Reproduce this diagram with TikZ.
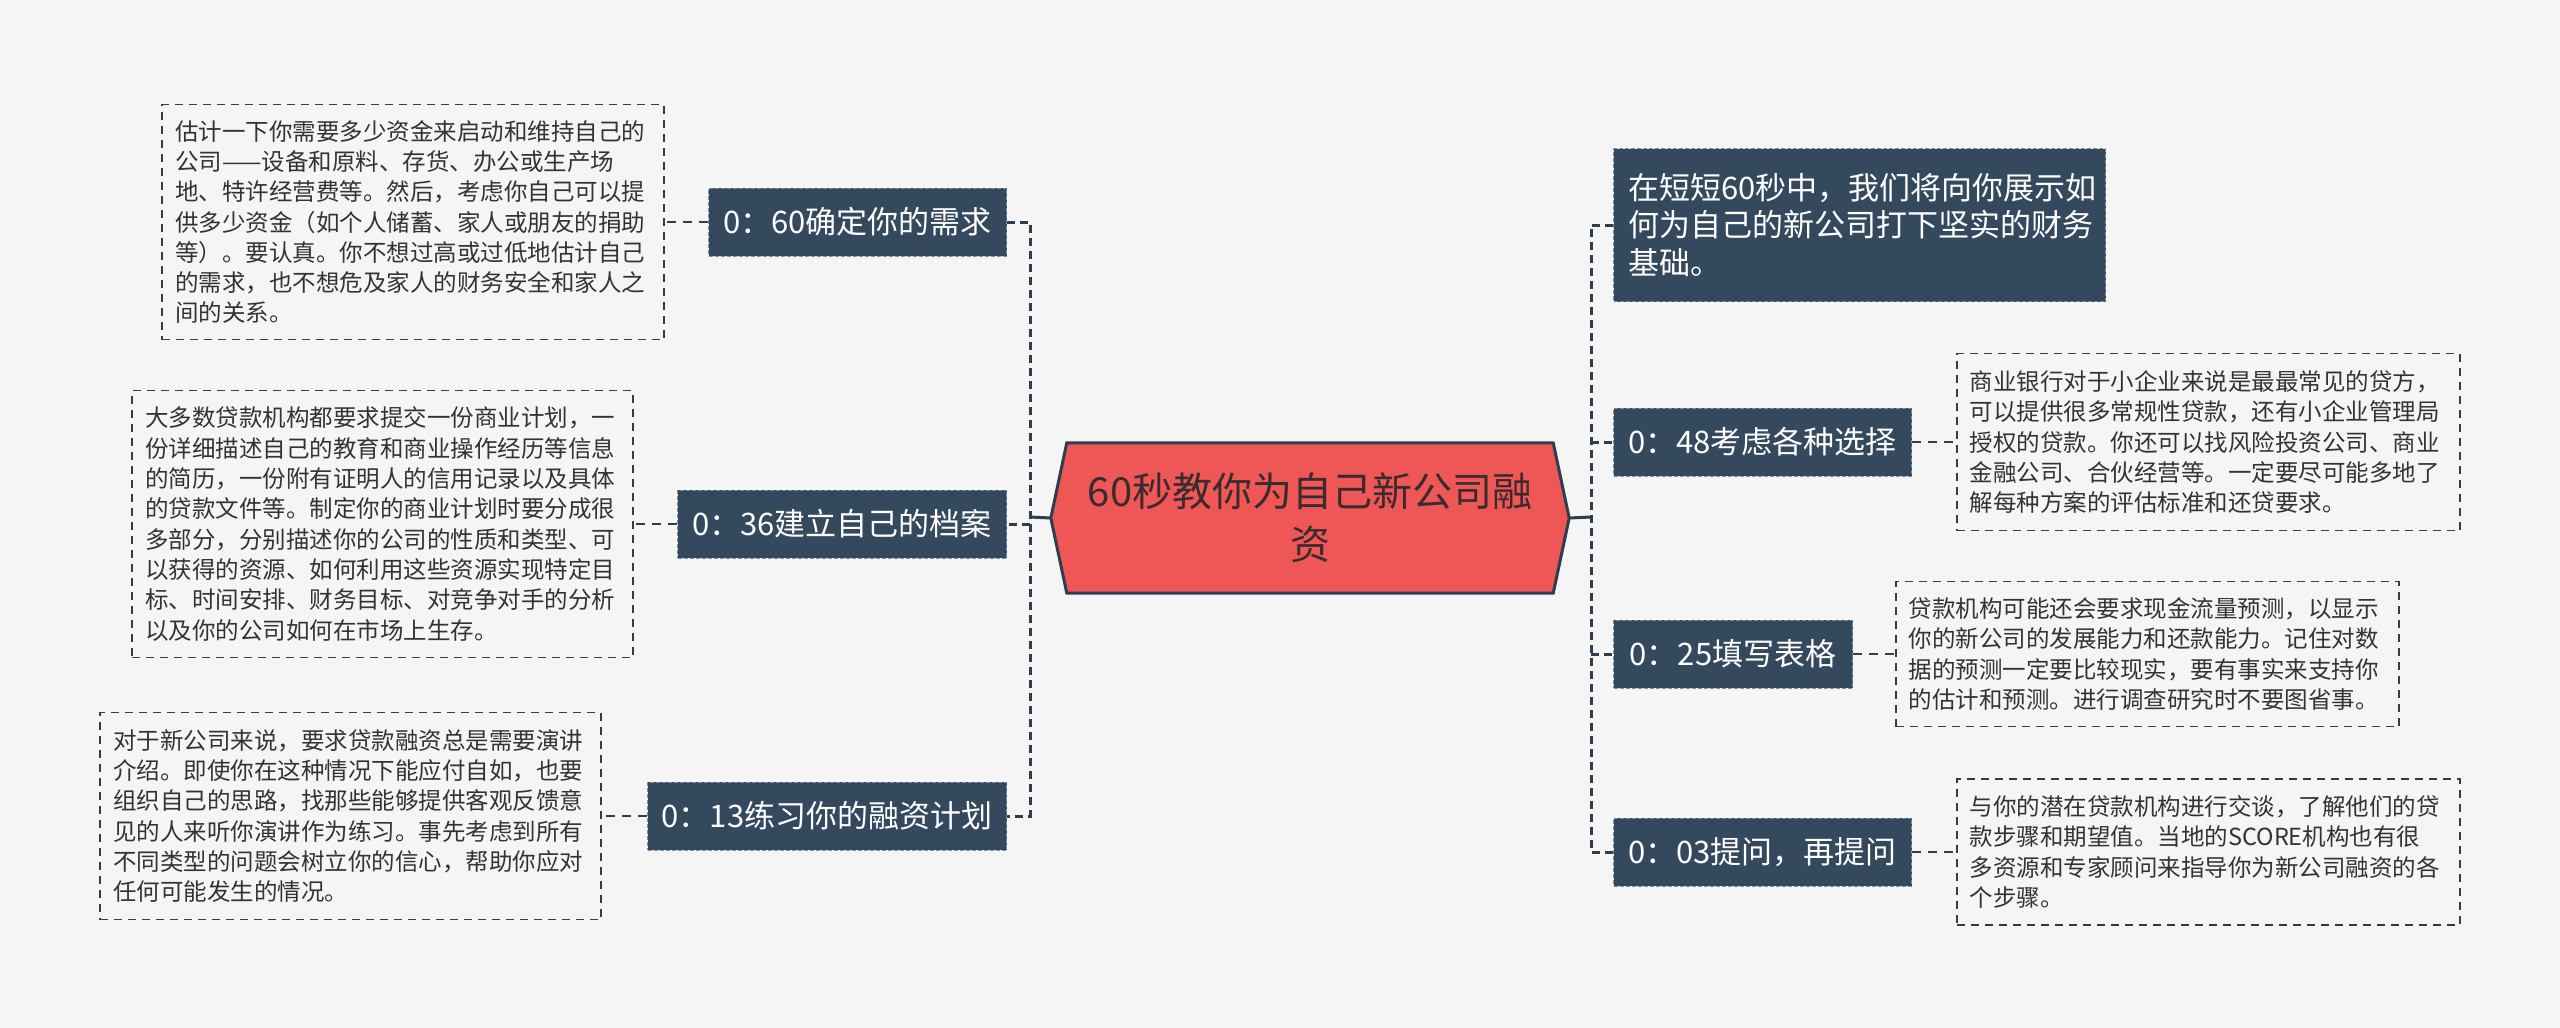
\documentclass[tikz,border=0pt]{standalone}
\usepackage{fontspec}
\newfontfamily\cjk{Noto Sans CJK SC}
\definecolor{bg}{HTML}{F5F5F5}
\definecolor{nodefill}{HTML}{34495E}
\definecolor{nodeborder}{HTML}{7D8D9E}
\definecolor{hubfill}{HTML}{EF5656}
\definecolor{hubtext}{HTML}{3A2B2F}
\definecolor{linecol}{HTML}{2C3E50}
\definecolor{descborder}{HTML}{3C3C3C}
\definecolor{desctext}{HTML}{333333}
\begin{document}
\begin{tikzpicture}[x=1pt,y=-1pt,
  topic/.style={fill=nodefill, draw=nodeborder, dash pattern=on 4pt off 2pt, line width=1pt,
    text=white, font=\cjk\fontsize{31}{37.5}\selectfont, minimum height=68pt, inner sep=0pt},
  desc/.style={draw=descborder, dash pattern=on 8pt off 6pt, line width=1.6pt,
    text=desctext, font=\cjk\fontsize{23.5}{30.3}\selectfont, align=left,
    inner xsep=13pt, inner ysep=0pt},
  trunk/.style={draw=linecol, line width=3pt, dash pattern=on 8pt off 5pt},
  hubline/.style={draw=linecol, line width=3pt},
  descline/.style={draw=linecol, line width=2.2pt, dash pattern=on 9pt off 7pt}]
\fill[bg] (0,0) rectangle (2560,1028);
\useasboundingbox (0,0) rectangle (2560,1028);

% central hexagon
\node[minimum width=518pt, minimum height=150pt, inner sep=0pt] (hub) at (1310,518) {};
\filldraw[fill=hubfill, draw=linecol, line width=3pt, line join=miter]
  (hub.west) -- ([xshift=16pt]hub.north west) -- ([xshift=-16pt]hub.north east)
  -- (hub.east) -- ([xshift=-16pt]hub.south east) -- ([xshift=16pt]hub.south west) -- cycle;
\node[text=hubtext, font=\cjk\fontsize{40}{53}\selectfont, align=center] (hubtxt) at (hub.center)
  {60秒教你为自己新公司融\\资};

% left topics
\node[topic, anchor=east, minimum width=298pt] (n60) at (1007,222) {0：60确定你的需求};
\node[topic, anchor=east, minimum width=329pt] (n36) at (1007,524) {0：36建立自己的档案};
\node[topic, anchor=east, minimum width=359pt] (n13) at (1007,816) {0：13练习你的融资计划};

% right topics
\node[topic, anchor=west, minimum width=492pt, minimum height=153pt, text width=462pt,
  inner xsep=15pt, align=left] (ntop) at (1613,225)
  {在短短60秒中，我们将向你展示如\\何为自己的新公司打下坚实的财务\\基础。};
\node[topic, anchor=west, minimum width=298pt] (n48) at (1613,442) {0：48考虑各种选择};
\node[topic, anchor=west, minimum width=239pt] (n25) at (1613,654) {0：25填写表格};
\node[topic, anchor=west, minimum width=298pt] (n03) at (1613,852) {0：03提问，再提问};

% descriptions left
\node[desc, anchor=east, text width=476pt, minimum height=235pt] (d60) at (665,222)
  {估计一下你需要多少资金来启动和维持自己的\\公司——设备和原料、存货、办公或生产场\\地、特许经营费等。然后，考虑你自己可以提\\供多少资金（如个人储蓄、家人或朋友的捐助\\等）。要认真。你不想过高或过低地估计自己\\的需求，也不想危及家人的财务安全和家人之\\间的关系。};
\node[desc, anchor=east, text width=475pt, minimum height=267pt] (d36) at (634,524)
  {大多数贷款机构都要求提交一份商业计划，一\\份详细描述自己的教育和商业操作经历等信息\\的简历，一份附有证明人的信用记录以及具体\\的贷款文件等。制定你的商业计划时要分成很\\多部分，分别描述你的公司的性质和类型、可\\以获得的资源、如何利用这些资源实现特定目\\标、时间安排、财务目标、对竞争对手的分析\\以及你的公司如何在市场上生存。};
\node[desc, anchor=east, text width=475pt, minimum height=207pt] (d13) at (602,816)
  {对于新公司来说，要求贷款融资总是需要演讲\\介绍。即使你在这种情况下能应付自如，也要\\组织自己的思路，找那些能够提供客观反馈意\\见的人来听你演讲作为练习。事先考虑到所有\\不同类型的问题会树立你的信心，帮助你应对\\任何可能发生的情况。};

% descriptions right
\node[desc, anchor=west, text width=477pt, minimum height=177pt] (d48) at (1956,442)
  {商业银行对于小企业来说是最最常见的贷方，\\可以提供很多常规性贷款，还有小企业管理局\\授权的贷款。你还可以找风险投资公司、商业\\金融公司、合伙经营等。一定要尽可能多地了\\解每种方案的评估标准和还贷要求。};
\node[desc, anchor=west, text width=477pt, minimum height=145pt] (d25) at (1895,654)
  {贷款机构可能还会要求现金流量预测，以显示\\你的新公司的发展能力和还款能力。记住对数\\据的预测一定要比较现实，要有事实来支持你\\的估计和预测。进行调查研究时不要图省事。};
\node[desc, anchor=west, text width=477pt, minimum height=146pt] (d03) at (1956,852)
  {与你的潜在贷款机构进行交谈，了解他们的贷\\款步骤和期望值。当地的SCORE机构也有很\\多资源和专家顾问来指导你为新公司融资的各\\个步骤。};

% connectors
\coordinate (lj) at (1030,517);
\coordinate (rj) at (1591,517);
\draw[hubline] (hub.west) -- (lj);
\draw[hubline] (hub.east) -- (rj);
\draw[trunk] (n60.east) -| (lj) |- (n13.east);
\draw[trunk] (lj |- n36.east) -- (n36.east);
\draw[trunk] (ntop.west) -| (rj) |- (n03.west);
\draw[trunk] (rj |- n48.west) -- (n48.west);
\draw[trunk] (rj |- n25.west) -- (n25.west);

\draw[descline] (n60.west) -- (d60.east);
\draw[descline] (n36.west) -- (d36.east);
\draw[descline] (n13.west) -- (d13.east);
\draw[descline] (n48.east) -- (d48.west);
\draw[descline] (n25.east) -- (d25.west);
\draw[descline] (n03.east) -- (d03.west);
\end{tikzpicture}
\end{document}
